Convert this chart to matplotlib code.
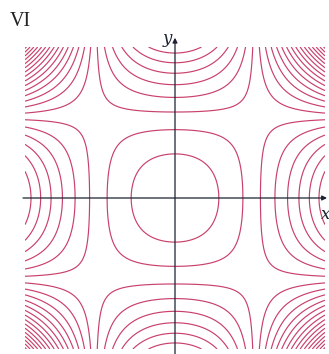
import numpy as np
import matplotlib
matplotlib.use("Agg")
import matplotlib.pyplot as plt

# z = (1 - x^2)(1 - y^2), contoured on a square window around the origin
x_range = [-1.875, 1.875]
y_range = [-1.875, 1.875]
level_step = 0.42
levels = list(np.arange(-2.24, 6.4, level_step))
panel_label = "VI"

line_color = "#c9416b"
axis_color = "#1c2233"

W, H = 329, 354
fig = plt.figure(figsize=(W / 100, H / 100), dpi=100)
ax = fig.add_axes([25 / W, 5 / H, 300 / W, 302 / H])

xs = np.linspace(x_range[0], x_range[1], 700)
ys = np.linspace(y_range[0], y_range[1], 700)
X, Y = np.meshgrid(xs, ys)
Z = (1 - X**2) * (1 - Y**2)

ax.contour(X, Y, Z, levels=levels, colors=line_color, linewidths=0.85,
           linestyles="solid")

ax.set_xlim(x_range)
ax.set_ylim(y_range)
ax.axis("off")

# coordinate axes with arrow heads
arrow = dict(arrowstyle="-|>", color=axis_color, lw=0.9,
             mutation_scale=7, shrinkA=0, shrinkB=0)
ax.annotate("", xy=(1.9, 0.0), xytext=(-1.9, 0.0), xycoords="data",
            arrowprops=arrow, annotation_clip=False)
ax.annotate("", xy=(0.0, 1.99), xytext=(0.0, -1.96), xycoords="data",
            arrowprops=arrow, annotation_clip=False)

ax.text(-0.04, 1.98, "y", fontsize=12, fontstyle="italic", family="DejaVu Serif",
        ha="right", va="center", color=axis_color, clip_on=False)
ax.text(1.82, -0.2, "x", fontsize=12, fontstyle="italic", family="DejaVu Serif",
        ha="left", va="center", color=axis_color, clip_on=False)

fig.text(10 / W, 1 - 22 / H, panel_label, fontsize=14.5, family="Liberation Serif",
         ha="left", va="center", color="#222222")

fig.savefig("out.png", dpi=100)
